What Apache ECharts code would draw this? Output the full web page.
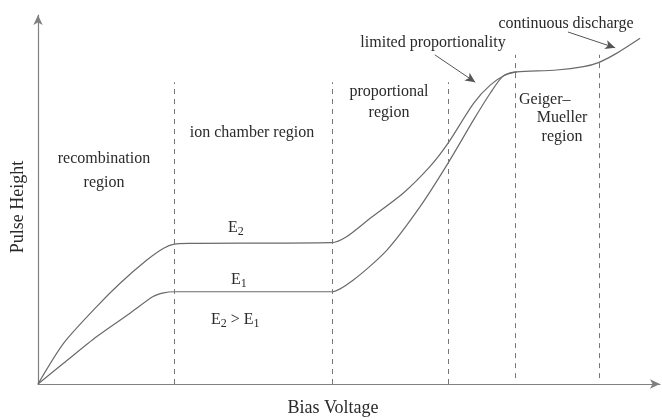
<!DOCTYPE html>
<html>
<head>
<meta charset="utf-8">
<style>
  html, body { margin: 0; padding: 0; background: #fff; }
  #chart { width: 662px; height: 420px; }
</style>
<script src="https://cdn.jsdelivr.net/npm/echarts@6/dist/echarts.min.js"></script>
</head>
<body>
<div id="chart"></div>
<script>
// curve points, [bias voltage, pulse height] in arbitrary 0-100 units
var e2Curve = [
  [0, 0], [4.1, 11.0], [9.4, 20.9], [13.2, 27.3], [17.5, 33.6], [20.2, 36.8],
  [21.9, 37.9], [24.4, 38.1], [47.2, 38.3], [49.6, 39.9], [53.4, 44.9],
  [58.7, 51.7], [63.0, 58.9], [65.9, 65.2], [70.0, 76.0], [72.7, 81.0],
  [75.4, 84.0], [77.0, 84.6], [83.4, 85.1], [87.7, 86.0], [90.1, 87.1],
  [93.0, 89.6], [96.8, 93.7]
];
var e1Curve = [
  [0, 0], [4.1, 5.6], [9.4, 12.8], [14.8, 19.2], [18.5, 23.7], [20.2, 24.7],
  [21.9, 25.0], [47.2, 25.0], [50.7, 28.2], [56.1, 36.3], [61.4, 48.0],
  [65.9, 59.8], [70.0, 71.5], [72.7, 78.8], [74.8, 83.5], [77.0, 84.6]
];
// region boundaries: x, bottom, top
var boundaries = [
  [21.9, 0, 81.8], [47.3, 0, 81.8], [65.9, 0, 81.8], [76.8, 1.6, 89.2], [90.2, 1.6, 89.2]
];
// annotation arrows: [from, to]
var arrows = [
  [[63.8, 89.2], [70.3, 81.8]],
  [[85.2, 95.4], [92.8, 91.1]]
];

var serif = '"Liberation Serif", "DejaVu Serif", serif';
var txtColor = '#2a2a2a';
var lineColor = '#6a6a6a';

function label(text, x, y, align) {
  return {
    type: 'text', x: x, y: y,
    style: {
      text: text, fill: txtColor, font: '16px ' + serif,
      align: align || 'center', verticalAlign: 'middle'
    }
  };
}
function subLabel(text, x, y) {
  return {
    type: 'text', x: x, y: y,
    style: {
      rich: {
        b: { font: '16px ' + serif, fill: txtColor },
        s: { font: '12px ' + serif, fill: txtColor, padding: [7, 0, 0, 0] }
      },
      text: text, verticalAlign: 'middle'
    }
  };
}

var myChart = echarts.init(document.getElementById('chart'));

var option = {
  animation: false,
  grid: { left: 38, right: 2, top: 15, bottom: 36, outerBoundsMode: 'none' },
  xAxis: {
    type: 'value', min: 0, max: 100,
    axisLine: { lineStyle: { color: '#808080', width: 1.2 }, symbol: ['none', 'arrow'], symbolSize: [7, 10] },
    axisTick: { show: false }, axisLabel: { show: false }, splitLine: { show: false }
  },
  yAxis: {
    type: 'value', min: 0, max: 100,
    axisLine: { lineStyle: { color: '#808080', width: 1.2 }, symbol: ['none', 'arrow'], symbolSize: [7, 10] },
    axisTick: { show: false }, axisLabel: { show: false }, splitLine: { show: false }
  },
  series: [
    {
      name: 'E2', type: 'line', data: e2Curve, smooth: 0.25,
      symbol: 'none', lineStyle: { color: lineColor, width: 1.2 },
      markLine: {
        silent: true, symbol: 'none', animation: false,
        lineStyle: { type: [5, 5], color: '#777', width: 1 },
        label: { show: false },
        data: boundaries.map(function (b) {
          return [{ coord: [b[0], b[1]] }, { coord: [b[0], b[2]] }];
        })
      }
    },
    {
      name: 'E1', type: 'line', data: e1Curve, smooth: 0.25,
      symbol: 'none', lineStyle: { color: lineColor, width: 1.2 },
      markLine: {
        silent: true, symbol: ['none', 'arrow'], symbolSize: [7, 10], animation: false,
        lineStyle: { type: 'solid', color: '#555', width: 1 },
        label: { show: false },
        data: arrows.map(function (a) {
          return [{ coord: a[0] }, { coord: a[1] }];
        })
      }
    }
  ],
  graphic: [
    label('recombination', 104, 159),
    label('region', 104, 183),
    label('ion chamber region', 252, 133),
    label('proportional', 389, 92),
    label('region', 389, 113),
    label('Geiger\u2013', 519, 100, 'left'),
    label('Mueller', 562, 118),
    label('region', 562, 137),
    label('limited proportionality', 433, 43),
    label('continuous discharge', 566, 24),
    subLabel('{b|E}{s|2}', 228, 228),
    subLabel('{b|E}{s|1}', 231, 280),
    subLabel('{b|E}{s|2}{b| > E}{s|1}', 211, 320),
    {
      type: 'text', x: 333, y: 408,
      style: { text: 'Bias Voltage', fill: txtColor, font: '18px ' + serif, align: 'center', verticalAlign: 'middle' }
    },
    {
      type: 'text', x: 18, y: 207, rotation: Math.PI / 2,
      style: { text: 'Pulse Height', fill: txtColor, font: '18px ' + serif, align: 'center', verticalAlign: 'middle' }
    }
  ]
};
myChart.setOption(option);
</script>
</body>
</html>
